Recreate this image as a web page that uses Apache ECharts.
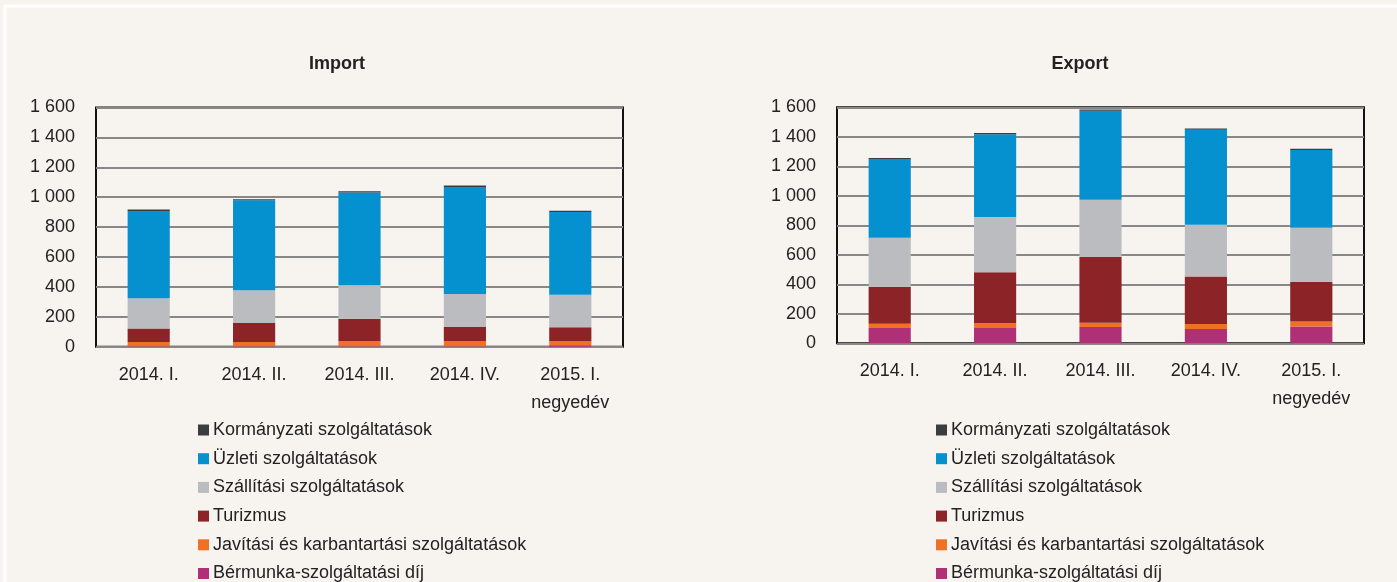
<!DOCTYPE html>
<html>
<head>
<meta charset="utf-8">
<script src="https://cdn.jsdelivr.net/npm/echarts@6/dist/echarts.min.js"></script>
<style>
  html, body { margin: 0; padding: 0; background: #f7f4f0; overflow: hidden; }
  #chart { width: 1397px; height: 620px; }
</style>
</head>
<body>
<div id="chart"></div>
<script>
// negyedévek
var categories = ['2014. I.', '2014. II.', '2014. III.', '2014. IV.', '2015. I.\nnegyedév'];

var seriesNames = [
  'Kormányzati szolgáltatások',
  'Üzleti szolgáltatások',
  'Szállítási szolgáltatások',
  'Turizmus',
  'Javítási és karbantartási szolgáltatások',
  'Bérmunka-szolgáltatási díj'
];

// Import
var bermunkaImp = [3, 3, 3, 3, 10];
var javitasImp = [28, 28, 35, 35, 27];
var turizmusImp = [91, 127, 149, 93, 93];
var szallitasImp = [202, 220, 224, 222, 218];
var uzletiImp = [583, 602, 620, 716, 553];
var kormanyImp = [11, 7, 9, 9, 9];

// Export
var bermunkaExp = [104, 104, 111, 97, 114];
var javitasExp = [29, 34, 29, 34, 34];
var turizmusExp = [250, 343, 445, 322, 269];
var szallitasExp = [333, 375, 388, 350, 366];
var uzletiExp = [534, 562, 603, 645, 528];
var kormanyExp = [6, 8, 9, 8, 8];

var yTicks = { min: 0, max: 1600, interval: 200 };

var colors = {
  'Kormányzati szolgáltatások': '#3b3c40',
  'Üzleti szolgáltatások': '#0591cf',
  'Szállítási szolgáltatások': '#babcbf',
  'Turizmus': '#8b2327',
  'Javítási és karbantartási szolgáltatások': '#f07025',
  'Bérmunka-szolgáltatási díj': '#b03078'
};

var font = '"Liberation Sans Narrow", "Arial Narrow", "Liberation Sans", sans-serif';

function fmt(v) {
  return String(v).replace(/\B(?=(\d{3})+(?!\d))/g, ' ');
}

function xAxisFor(i) {
  return {
    type: 'category',
    gridIndex: i,
    data: categories,
    axisLine: { show: false },
    axisTick: { show: false },
    axisLabel: {
      color: '#222',
      fontFamily: font,
      fontSize: 18,
      lineHeight: 28,
      margin: 14
    }
  };
}

function yAxisFor(i) {
  return {
    type: 'value',
    gridIndex: i,
    min: yTicks.min,
    max: yTicks.max,
    interval: yTicks.interval,
    axisLine: { show: false },
    axisTick: { show: false },
    axisLabel: {
      color: '#222',
      fontFamily: font,
      fontSize: 18,
      margin: 21,
      formatter: fmt
    },
    splitLine: {
      lineStyle: { color: '#878787', width: 2 }
    }
  };
}

function barSeries(name, data, idx, stack) {
  return {
    name: name,
    type: 'bar',
    stack: stack,
    xAxisIndex: idx,
    yAxisIndex: idx,
    barWidth: '40%',
    itemStyle: { color: colors[name] },
    data: data
  };
}

function legendFor(left) {
  return {
    orient: 'vertical',
    left: left,
    top: 420,
    height: 190,
    padding: 0,
    icon: 'rect',
    itemWidth: 11,
    itemHeight: 11,
    itemGap: 8.7,
    selectedMode: false,
    data: seriesNames,
    textStyle: {
      color: '#222',
      fontFamily: font,
      fontSize: 18,
      lineHeight: 20,
      padding: [0, 0, 0, -1]
    }
  };
}

var chart = echarts.init(document.getElementById('chart'));
chart.setOption({
  backgroundColor: '#f7f4f0',
  animation: false,
  graphic: [{
    type: 'rect',
    shape: { x: 5, y: 6, width: 1420, height: 660 },
    style: { fill: 'none', stroke: '#ffffff', lineWidth: 3 },
    silent: true
  }],
  title: [
    {
      text: 'Import',
      left: 332,
      top: 50,
      textAlign: 'center',
      textStyle: { fontFamily: font, fontSize: 18, fontWeight: 'bold', color: '#222' }
    },
    {
      text: 'Export',
      left: 1075,
      top: 50,
      textAlign: 'center',
      textStyle: { fontFamily: font, fontSize: 18, fontWeight: 'bold', color: '#222' }
    }
  ],
  grid: [
    { left: 96, width: 527, top: 107.5, height: 239.2, show: true, borderColor: '#111', borderWidth: 2 },
    { left: 837, width: 527, top: 107.3, height: 236, show: true, borderColor: '#111', borderWidth: 2 }
  ],
  legend: [legendFor(198), legendFor(936)],
  xAxis: [xAxisFor(0), xAxisFor(1)],
  yAxis: [yAxisFor(0), yAxisFor(1)],
  series: [
    barSeries('Bérmunka-szolgáltatási díj', bermunkaImp, 0, 'imp'),
    barSeries('Javítási és karbantartási szolgáltatások', javitasImp, 0, 'imp'),
    barSeries('Turizmus', turizmusImp, 0, 'imp'),
    barSeries('Szállítási szolgáltatások', szallitasImp, 0, 'imp'),
    barSeries('Üzleti szolgáltatások', uzletiImp, 0, 'imp'),
    barSeries('Kormányzati szolgáltatások', kormanyImp, 0, 'imp'),
    barSeries('Bérmunka-szolgáltatási díj', bermunkaExp, 1, 'exp'),
    barSeries('Javítási és karbantartási szolgáltatások', javitasExp, 1, 'exp'),
    barSeries('Turizmus', turizmusExp, 1, 'exp'),
    barSeries('Szállítási szolgáltatások', szallitasExp, 1, 'exp'),
    barSeries('Üzleti szolgáltatások', uzletiExp, 1, 'exp'),
    barSeries('Kormányzati szolgáltatások', kormanyExp, 1, 'exp')
  ]
});
window.addEventListener('resize', function () {
  chart.resize();
});
</script>
</body>
</html>
